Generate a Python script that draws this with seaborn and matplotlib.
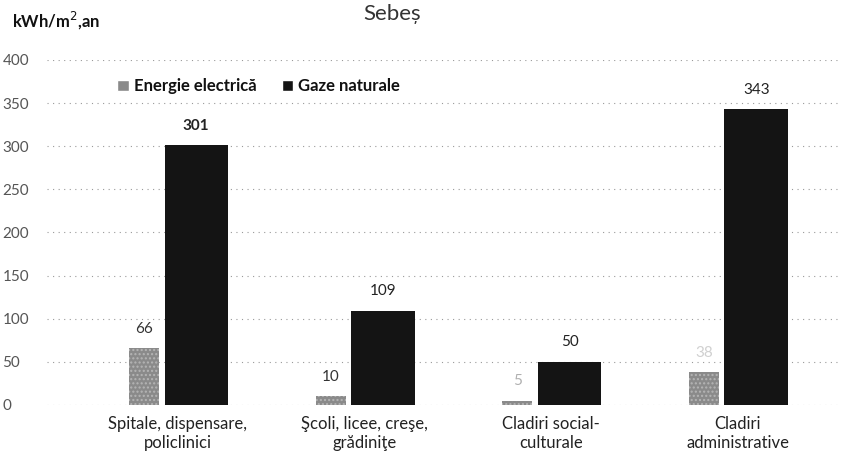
import numpy as np
import pandas as pd
import matplotlib
matplotlib.use("Agg")
import matplotlib.pyplot as plt
import seaborn as sns

# --- date ---
categorii = ["Spitale, dispensare,\npoliclinici",
             "Şcoli, licee, creşe,\ngrădiniţe",
             "Cladiri social-\nculturale",
             "Cladiri\nadministrative"]
energie_electrica = [66, 10, 5, 38]
gaze_naturale = [301, 109, 50, 343]
serii = ["Energie electrică", "Gaze naturale"]
culori = ["#8a8a8a", "#141414"]

df = pd.DataFrame({
    "categorie": categorii * 2,
    "valoare": energie_electrica + gaze_naturale,
    "serie": [serii[0]] * 4 + [serii[1]] * 4,
})

sns.set_theme(style="white")
plt.rcParams["font.family"] = ["Lato", "DejaVu Sans"]

fig = plt.figure(figsize=(8.53, 4.72), dpi=100)
ax = fig.add_axes([0.055, 0.142, 0.93, 0.731])

sns.barplot(data=df, x="categorie", y="valoare", hue="serie", palette=culori,
            width=0.7, ax=ax, saturation=1, legend=True)

# latimi diferite pentru cele doua serii, ca in original
lat = [0.16, 0.34]
dx = [-0.18, 0.10]
for k, cont in enumerate(ax.containers):
    for i, p in enumerate(cont.patches):
        p.set_width(lat[k])
        p.set_x(i + dx[k] - lat[k] / 2)
        p.set_edgecolor("none")
    if k == 0:
        for p in cont.patches:
            p.set_hatch("....")
            p.set_edgecolor("#b5b5b5")
            p.set_linewidth(0)

# etichete valori
lab_el = ax.bar_label(ax.containers[0], labels=[str(v) for v in energie_electrica],
                      padding=9, fontsize=11, color="#333333")
lab_gz = ax.bar_label(ax.containers[1], labels=[str(v) for v in gaze_naturale],
                      padding=9, fontsize=11, color="#222222")
lab_gz[0].set_fontweight("bold")
lab_el[2].set_color("#b0b0b0")
lab_el[3].set_color("#d0d0d0")

ax.set_ylim(0, 400)
ax.set_yticks(np.arange(0, 401, 50))
ax.set_xlim(-0.7, 3.55)
ax.yaxis.grid(True, linestyle=(0, (1, 4)), color="#9a9a9a", linewidth=0.8)
ax.set_axisbelow(True)
for s in ax.spines.values():
    s.set_visible(False)
ax.tick_params(axis="y", labelsize=11, labelcolor="#555555", length=0, pad=32)
ax.tick_params(axis="x", labelsize=12, labelcolor="#222222", length=0, pad=8)
for t in ax.get_yticklabels():
    t.set_horizontalalignment("left")
ax.set_xlabel("")
ax.set_ylabel("")

leg = ax.legend(loc="upper left", bbox_to_anchor=(0.07, 0.99), ncol=2, frameon=False,
                fontsize=12, handlelength=0.7, handleheight=0.7, handletextpad=0.3,
                columnspacing=1.5)
for t in leg.get_texts():
    t.set_color("#111111")
    t.set_fontweight("bold")

fig.text(0.014, 0.955, "kWh/m$^2$,an", fontsize=12, fontweight="bold",
         color="#111111", ha="left", va="center")
fig.text(0.46, 0.97, "Sebeș", fontsize=16, color="#333333", ha="center", va="center")

fig.savefig("out.png", dpi=100)
